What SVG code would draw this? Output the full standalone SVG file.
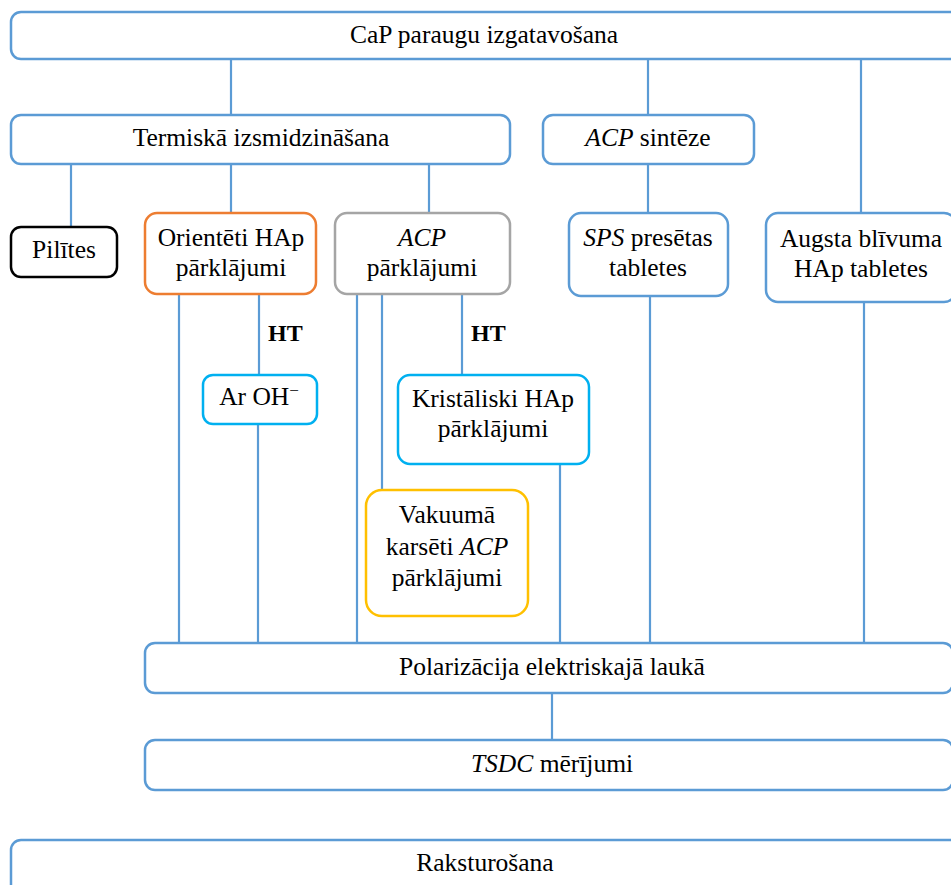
<svg xmlns="http://www.w3.org/2000/svg" width="951" height="885" viewBox="0 0 951 885">
<style>
.box{fill:#fff;stroke-width:2.5}
.b{stroke:#5B9BD5}
.k{stroke:#000}
.o{stroke:#ED7D31}
.g{stroke:#A5A5A5}
.c{stroke:#00B0F0}
.y{stroke:#FFC000}
.t{font-family:"Liberation Serif","Times New Roman",serif;font-size:25.5px;fill:#000;text-anchor:middle}
.ht{font-family:"Liberation Serif","Times New Roman",serif;font-size:24px;font-weight:bold;fill:#000}
.i{font-style:italic}
#connectors line{stroke:#5B9BD5;stroke-width:2.2}
</style>
<rect width="951" height="885" fill="#fff"/>
<g id="connectors">
<line x1="231" y1="59" x2="231" y2="115"/>
<line x1="648" y1="59" x2="648" y2="115"/>
<line x1="861" y1="59" x2="861" y2="213"/>
<line x1="71" y1="164" x2="71" y2="227"/>
<line x1="231" y1="164" x2="231" y2="213"/>
<line x1="429" y1="164" x2="429" y2="213"/>
<line x1="648" y1="164" x2="648" y2="213"/>
<line x1="179" y1="294" x2="179" y2="643"/>
<line x1="259" y1="294" x2="259" y2="375"/>
<line x1="258" y1="424" x2="258" y2="643"/>
<line x1="357" y1="294" x2="357" y2="643"/>
<line x1="382" y1="294" x2="382" y2="490"/>
<line x1="462" y1="294" x2="462" y2="375"/>
<line x1="560" y1="464" x2="560" y2="643"/>
<line x1="650" y1="296" x2="650" y2="643"/>
<line x1="864" y1="302" x2="864" y2="643"/>
<line x1="552" y1="693" x2="552" y2="740"/>
</g>
<g id="ht1"><text class="ht" x="268" y="341">HT</text></g>
<g id="ht2"><text class="ht" x="471" y="341">HT</text></g>
<g id="cap">
<rect class="box b" x="11" y="12" width="950" height="47" rx="10"/>
<text class="t" x="484" y="43">CaP paraugu izgatavošana</text>
</g>
<g id="termiska">
<rect class="box b" x="11" y="115" width="499" height="49" rx="10"/>
<text class="t" x="261" y="146">Termiskā izsmidzināšana</text>
</g>
<g id="acpsinteze">
<rect class="box b" x="543" y="115" width="211" height="49" rx="10"/>
<text class="t" x="648" y="146"><tspan class="i">ACP</tspan> sintēze</text>
</g>
<g id="pilites">
<rect class="box k" x="11" y="227" width="106" height="50" rx="10"/>
<text class="t" x="64" y="258">Pilītes</text>
</g>
<g id="orienteti">
<rect class="box o" x="145" y="213" width="171" height="81" rx="12"/>
<text class="t" x="231" y="246">Orientēti HAp</text>
<text class="t" x="231" y="276">pārklājumi</text>
</g>
<g id="acp">
<rect class="box g" x="335" y="213" width="175" height="81" rx="12"/>
<text class="t i" x="422" y="246">ACP</text>
<text class="t" x="422" y="276">pārklājumi</text>
</g>
<g id="sps">
<rect class="box b" x="569" y="213" width="159" height="83" rx="12"/>
<text class="t" x="648" y="246"><tspan class="i">SPS</tspan> presētas</text>
<text class="t" x="648" y="276">tabletes</text>
</g>
<g id="augsta">
<rect class="box b" x="766" y="213" width="190" height="89" rx="12"/>
<text class="t" x="861" y="247">Augsta blīvuma</text>
<text class="t" x="861" y="277">HAp tabletes</text>
</g>
<g id="aroh">
<rect class="box c" x="203" y="375" width="114" height="49" rx="10"/>
<text class="t" x="259" y="405">Ar OH<tspan dy="-9" font-size="17">−</tspan></text>
</g>
<g id="kristaliski">
<rect class="box c" x="398" y="375" width="191" height="89" rx="12"/>
<text class="t" x="493" y="407">Kristāliski HAp</text>
<text class="t" x="493" y="437">pārklājumi</text>
</g>
<g id="vakuuma">
<rect class="box y" x="366" y="490" width="162" height="126" rx="16"/>
<text class="t" x="447" y="523">Vakuumā</text>
<text class="t" x="447" y="555">karsēti <tspan class="i">ACP</tspan></text>
<text class="t" x="447" y="586">pārklājumi</text>
</g>
<g id="polarizacija">
<rect class="box b" x="145" y="643" width="808" height="50" rx="10"/>
<text class="t" x="552" y="675">Polarizācija elektriskajā laukā</text>
</g>
<g id="tsdc">
<rect class="box b" x="145" y="740" width="808" height="50" rx="10"/>
<text class="t" x="552" y="772"><tspan class="i">TSDC</tspan>  mērījumi</text>
</g>
<g id="raksturosana">
<rect class="box b" x="11" y="840" width="950" height="60" rx="10"/>
<text class="t" x="485" y="871">Raksturošana</text>
</g>
</svg>
